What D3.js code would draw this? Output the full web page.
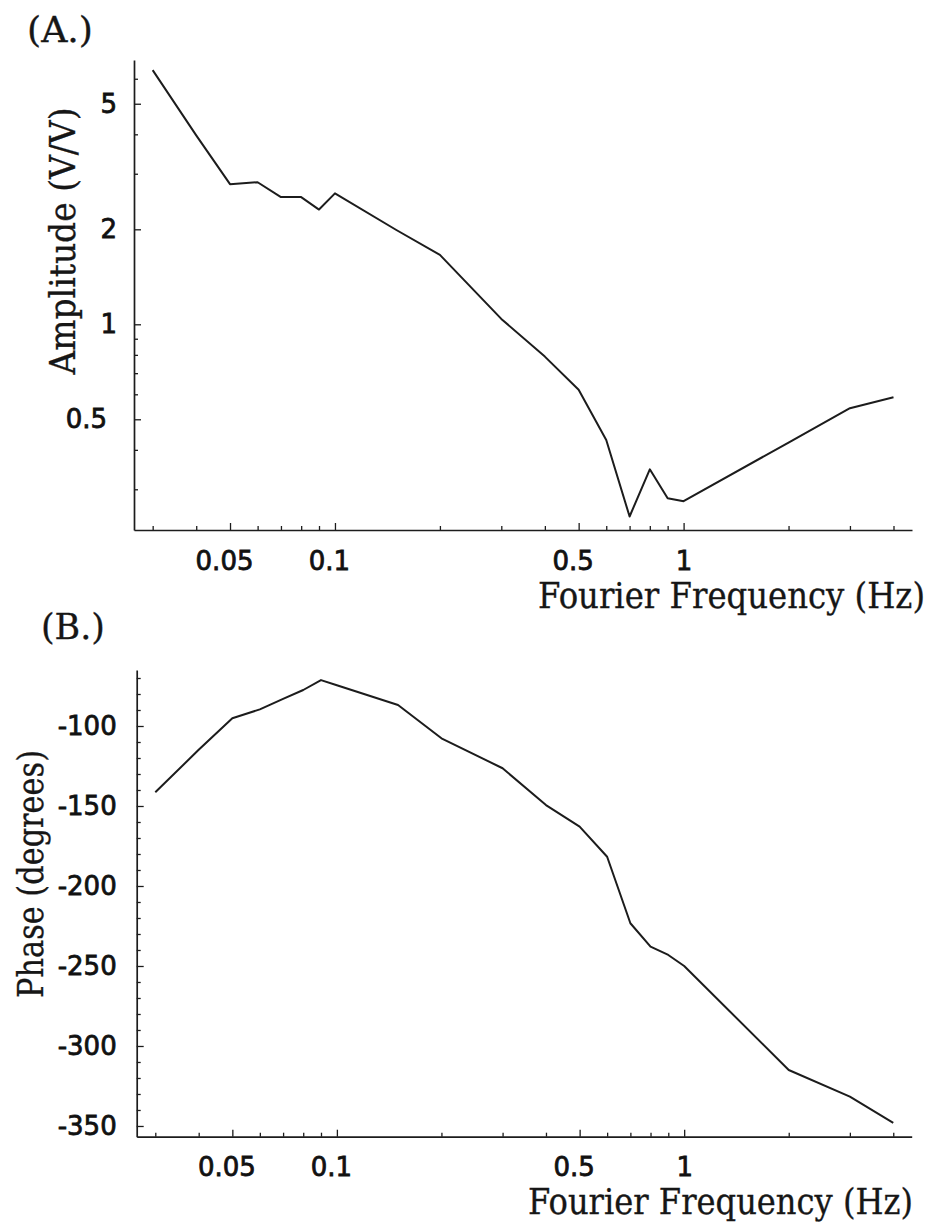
<!DOCTYPE html>
<html>
<head>
<meta charset="utf-8">
<script src="https://cdn.jsdelivr.net/npm/d3@7"></script>
<style>
  html, body { margin: 0; padding: 0; background: #fff; }
  svg { display: block; }
</style>
</head>
<body>
<svg id="chart" width="933" height="1227"></svg>
<script>
// ---------- data ----------
const frequency = [0.03, 0.04, 0.05, 0.06, 0.07, 0.08, 0.09, 0.1, 0.15, 0.2, 0.3, 0.4, 0.5, 0.6, 0.7, 0.8, 0.9, 1, 2, 3, 4];
const amplitude = [6.39, 3.97, 2.78, 2.82, 2.53, 2.53, 2.31, 2.60, 1.99, 1.66, 1.04, 0.79, 0.62, 0.43, 0.246, 0.347, 0.281, 0.275, 0.422, 0.542, 0.587];
const phase = [-141.4, -114.9, -95.2, -89.6, -83.1, -77.5, -71.3, -74.5, -86.9, -107.7, -126.4, -149.4, -162.9, -181.7, -223.3, -237.9, -243.1, -250, -315, -331.7, -348];

const freqMajorTicks = [0.05, 0.1, 0.5, 1];
const freqMajorLabels = ["0.05", "0.1", "0.5", "1"];
const freqMinorTicks = [0.03, 0.04, 0.06, 0.07, 0.08, 0.09, 0.2, 0.3, 0.4, 0.6, 0.7, 0.8, 0.9, 2, 3, 4];
const ampMajorTicks = [0.5, 1, 2, 5];
const ampMajorLabels = ["0.5", "1", "2", "5"];
const ampMinorTicks = [0.3, 0.4, 0.6, 0.7, 0.8, 0.9, 3, 4, 6];
const phaseMajorTicks = [-100, -150, -200, -250, -300, -350];
const phaseMajorLabels = ["-100", "-150", "-200", "-250", "-300", "-350"];
const phaseMinorTicks = [-70, -80, -90, -110, -120, -130, -140, -160, -170, -180, -190, -210, -220, -230, -240, -260, -270, -280, -290, -310, -320, -330, -340];

const freqDomain = [0.02652, 4.52];
const ampDomain = [0.2229, 6.88];
const phaseDomain = [-356.7, -65];

const panelLabels = ["(A.)", "(B.)"];
const xTitle = "Fourier Frequency (Hz)";
const yTitleA = "Amplitude (V/V)";
const yTitleB = "Phase (degrees)";

// ---------- drawing ----------
const svg = d3.select("#chart");
const INK = "#1c1c1c";
const serif = "'DejaVu Serif', 'Liberation Serif', serif";
const sans = "'DejaVu Sans', 'Liberation Sans', sans-serif";

function serifText(g, str, transform, length, anchor) {
  return g.append("text").text(str)
    .attr("transform", transform)
    .attr("text-anchor", anchor || "start")
    .attr("textLength", length).attr("lengthAdjust", "spacingAndGlyphs")
    .style("font-family", serif).style("font-size", "31px").attr("fill", "#161616")
    .style("stroke", "#161616").style("stroke-width", "0.3px");
}

function drawPanel(opts) {
  const x = d3.scaleLog().domain(freqDomain).range(opts.xRange);
  const y = opts.yScale;
  const g = svg.append("g");

  // minor ticks x
  g.append("g").attr("transform", `translate(0,${opts.axisY})`)
    .call(d3.axisBottom(x).tickValues(freqMinorTicks).tickSizeInner(-4).tickSizeOuter(0).tickFormat(""))
    .call(s => s.select(".domain").remove());
  // major ticks x
  const gx = g.append("g").attr("transform", `translate(0,${opts.axisY})`)
    .call(d3.axisBottom(x).tickValues(freqMajorTicks).tickSizeInner(-7).tickSizeOuter(0)
      .tickPadding(opts.xPad).tickFormat((d, i) => freqMajorLabels[i]));
  gx.selectAll("text").attr("dx", d => (String(d).indexOf(".") >= 0 ? -6 : 0));

  // minor ticks y
  g.append("g").attr("transform", `translate(${opts.axisX},0)`)
    .call(d3.axisLeft(y).tickValues(opts.yMinor).tickSizeInner(-4).tickSizeOuter(0).tickFormat(""))
    .call(s => s.select(".domain").remove());
  const gy = g.append("g").attr("transform", `translate(${opts.axisX},0)`)
    .call(d3.axisLeft(y).tickValues(opts.yMajor).tickSizeInner(-7).tickSizeOuter(0)
      .tickPadding(opts.yPad).tickFormat((d, i) => opts.yLabels[i]));
  gy.selectAll("text").attr("dx", d => (opts.yDx ? opts.yDx(d) : 0));

  g.selectAll(".domain").attr("stroke", INK).attr("stroke-width", 1.7);
  g.selectAll(".tick line").attr("stroke", INK).attr("stroke-width", 1.3);
  g.selectAll(".tick text").attr("fill", "#111").style("font-family", sans)
    .style("font-size", "26px").style("stroke", "#111").style("stroke-width", "0.8px");

  // data line
  const line = d3.line().x(d => x(d[0])).y(d => y(d[1]));
  g.append("path")
    .datum(frequency.map((f, i) => [f, opts.values[i]]))
    .attr("d", line)
    .attr("fill", "none")
    .attr("stroke", INK)
    .attr("stroke-width", 2)
    .attr("stroke-linejoin", "round");

  // axis titles (slightly tall serif to mimic the original typeface)
  serifText(g, xTitle,
    `translate(${opts.xTitlePos[0]},${opts.xTitlePos[1]}) scale(1,1.13)`, opts.xTitlePos[2]);
  serifText(g, opts.yTitle,
    `translate(${opts.yTitlePos[0]},${opts.yTitlePos[1]}) rotate(-90) scale(1,1.13)`, opts.yTitlePos[2], "middle");
  serifText(g, opts.panelLabel,
    `translate(${opts.panelPos[0]},${opts.panelPos[1]}) scale(1,1.13)`, opts.panelPos[2]);
}

drawPanel({
  xRange: [134, 912],
  axisY: 530,
  axisX: 134,
  yScale: d3.scaleLog().domain(ampDomain).range([530, 60]),
  yMajor: ampMajorTicks,
  yMinor: ampMinorTicks,
  yLabels: ampMajorLabels,
  yDx: d => (d < 1 ? -10 : 0),
  values: amplitude,
  xPad: 22,
  yPad: 17,
  xTitlePos: [538, 608, 387],
  yTitle: yTitleA,
  yTitlePos: [75, 241, 267],
  panelLabel: panelLabels[0],
  panelPos: [27, 42, 66]
});

drawPanel({
  xRange: [136.7, 911.7],
  axisY: 1136.7,
  axisX: 136.7,
  yScale: d3.scaleLinear().domain(phaseDomain).range([1136.7, 670]),
  yMajor: phaseMajorTicks,
  yMinor: phaseMinorTicks,
  yLabels: phaseMajorLabels,
  yDx: null,
  values: phase,
  xPad: 21,
  yPad: 20,
  xTitlePos: [528, 1214, 385],
  yTitle: yTitleB,
  yTitlePos: [43, 874, 248],
  panelLabel: panelLabels[1],
  panelPos: [41, 639, 64]
});
</script>
</body>
</html>
